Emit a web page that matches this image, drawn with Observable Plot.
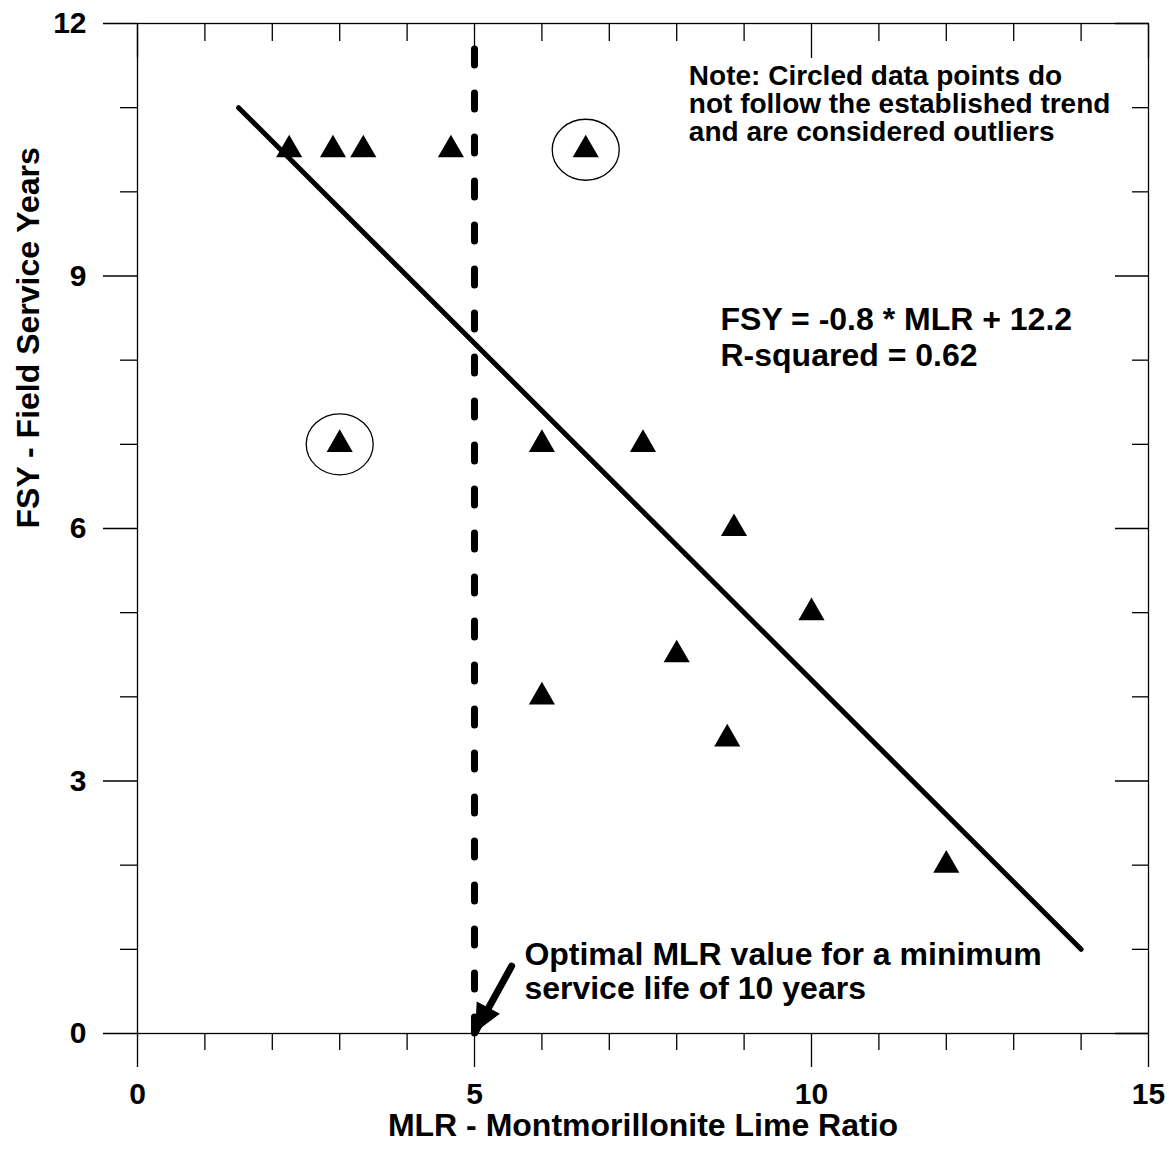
<!DOCTYPE html>
<html><head><meta charset="utf-8">
<script src="https://cdn.jsdelivr.net/npm/d3@7"></script>
<script src="https://cdn.jsdelivr.net/npm/@observablehq/plot@0.6"></script>
<style>body{margin:0;background:#fff;} #chart svg{display:block}</style>
</head><body><div id="chart"></div>
<script>
// Data
const mlr = [2.25, 2.9, 3.35, 4.65, 6.65, 3.0, 6.0, 7.5, 8.85, 10.0, 8.0, 6.0, 8.75, 12.0];
const fsy = [10.5, 10.5, 10.5, 10.5, 10.5, 7.0, 7.0, 7.0, 6.0, 5.0, 4.5, 4.0, 3.5, 2.0];
const outlierMLR = [6.65, 3.0];
const outlierFSY = [10.5, 7.0];
const fitMLR = [1.5, 14];
const fitFSY = [11.0, 1.0];
const optimalMLR = [5];
const xMajorTicks = [0, 5, 10, 15];
const xMinorTicks = [1, 2, 3, 4, 6, 7, 8, 9, 11, 12, 13, 14];
const yMajorTicks = [0, 3, 6, 9, 12];
const yMinorTicks = [1, 2, 4, 5, 7, 8, 10, 11];
const arrowFromMLR = [5.55], arrowFromFSY = [0.8], arrowToMLR = [5.02], arrowToFSY = [0.03];
const xTitle = "MLR - Montmorillonite Lime Ratio";
const yTitle = "FSY - Field Service Years";
const noteLines = ["Note: Circled data points do", "not follow the established trend", "and are considered outliers"];
const noteAt = [8.18, 11.5];
const eqLines = ["FSY = -0.8 * MLR + 12.2", "R-squared = 0.62"];
const eqAt = [8.65, 8.66];
const optLines = ["Optimal MLR value for a minimum", "service life of 10 years"];
const optAt = [5.74, 1.10];

const points = mlr.map((x, i) => ({x, y: fsy[i]}));
const outliers = outlierMLR.map((x, i) => ({x, y: outlierFSY[i]}));
const fit = fitMLR.map((x, i) => ({x, y: fitFSY[i]}));
const arrows = arrowFromMLR.map((x1, i) => ({x1, y1: arrowFromFSY[i], x2: arrowToMLR[i], y2: arrowToFSY[i]}));

const ellipse = {draw(ctx, size) {
  const r = Math.sqrt(size / Math.PI), rx = r, ry = r * 0.91, k = 0.5523;
  ctx.moveTo(rx, 0);
  ctx.bezierCurveTo(rx, ry * k, rx * k, ry, 0, ry);
  ctx.bezierCurveTo(-rx * k, ry, -rx, ry * k, -rx, 0);
  ctx.bezierCurveTo(-rx, -ry * k, -rx * k, -ry, 0, -ry);
  ctx.bezierCurveTo(rx * k, -ry, rx, -ry * k, rx, 0);
  ctx.closePath();
}};
// arrowhead with its tip at the symbol origin, pointing up before rotation
const arrowHead = {draw(ctx, size) {
  const r = Math.sqrt(size / Math.PI), h = r * 2, w = r * 1.9;
  ctx.moveTo(0, 0);
  ctx.lineTo(-w / 2, h);
  ctx.lineTo(w / 2, h);
  ctx.closePath();
}};

const font = "'Liberation Sans', Arial, Helvetica, sans-serif";
const blank = () => "";
const intFmt = d => String(d);
const sw = 1.3;

const chart = Plot.plot({
  width: 1169, height: 1152,
  marginLeft: 137, marginRight: 21, marginTop: 23, marginBottom: 119,
  style: {fontFamily: font, fontWeight: "bold", fontSize: "28px", color: "black", background: "white"},
  x: {domain: [0, 15]},
  y: {domain: [0, 12]},
  marks: [
    Plot.frame({stroke: "black", strokeWidth: sw}),
    // bottom / left (outward) ticks and labels
    Plot.axisX(xMajorTicks, {anchor: "bottom", tickSize: 34, tickPadding: 15, strokeWidth: sw, fontSize: 30, fontWeight: "bold", tickFormat: intFmt, label: null}),
    Plot.axisX(xMinorTicks, {anchor: "bottom", tickSize: 17, tickFormat: blank, strokeWidth: sw, label: null}),
    Plot.axisY(yMajorTicks, {anchor: "left", tickSize: 34, tickPadding: 17, strokeWidth: sw, fontSize: 30, fontWeight: "bold", tickFormat: intFmt, label: null}),
    Plot.axisY(yMinorTicks, {anchor: "left", tickSize: 17, tickFormat: blank, strokeWidth: sw, label: null}),
    // top / right (inward) ticks
    Plot.axisX(xMajorTicks, {anchor: "top", tickSize: -34, tickFormat: blank, strokeWidth: sw, label: null}),
    Plot.axisX(xMinorTicks, {anchor: "top", tickSize: -17, tickFormat: blank, strokeWidth: sw, label: null}),
    Plot.axisY(yMajorTicks, {anchor: "right", tickSize: -34, tickFormat: blank, strokeWidth: sw, label: null}),
    Plot.axisY(yMinorTicks, {anchor: "right", tickSize: -17, tickFormat: blank, strokeWidth: sw, label: null}),
    // vertical dashed optimal line
    Plot.ruleX(optimalMLR, {y1: 0, y2: 12, stroke: "black", strokeWidth: 7, strokeDasharray: "16,28", strokeLinecap: "round"}),
    // regression line
    Plot.line(fit, {x: "x", y: "y", stroke: "black", strokeWidth: 5}),
    // data
    Plot.dot(points, {x: "x", y: "y", symbol: "triangle", r: 9.7, fill: "black", stroke: "none"}),
    Plot.dot(outliers, {x: "x", y: "y", symbol: ellipse, r: 33.5, fill: "none", stroke: "black", strokeWidth: 1.3}),
    // arrow: shaft + filled head
    Plot.link(arrows, {x1: "x1", y1: "y1", x2: "x2", y2: "y2", stroke: "black", strokeWidth: 7, strokeLinecap: "round"}),
    Plot.dot(arrows, {x: "x2", y: "y2", symbol: arrowHead, r: 13, rotate: 208, fill: "black", stroke: "black", strokeWidth: 1}),
    // annotations
    Plot.text([noteLines.join("\n")], {x: () => noteAt[0], y: () => noteAt[1], text: d => d, textAnchor: "start", lineAnchor: "top", fontSize: 28, fontWeight: "bold", lineHeight: 1.0, fill: "black"}),
    Plot.text([eqLines.join("\n")], {x: () => eqAt[0], y: () => eqAt[1], text: d => d, textAnchor: "start", lineAnchor: "top", fontSize: 32, fontWeight: "bold", lineHeight: 1.12, fill: "black"}),
    Plot.text([optLines.join("\n")], {x: () => optAt[0], y: () => optAt[1], text: d => d, textAnchor: "start", lineAnchor: "top", fontSize: 32, fontWeight: "bold", lineHeight: 1.06, fill: "black"}),
    // axis titles
    Plot.text([xTitle], {frameAnchor: "bottom", lineAnchor: "middle", dy: 92, text: d => d, fontSize: 32, fontWeight: "bold", fill: "black"}),
    Plot.text([yTitle], {frameAnchor: "left", lineAnchor: "middle", dx: -109, rotate: -90, text: d => d, fontSize: 32, fontWeight: "bold", fill: "black"})
  ]
});
document.getElementById("chart").appendChild(chart);
</script>
</body></html>
